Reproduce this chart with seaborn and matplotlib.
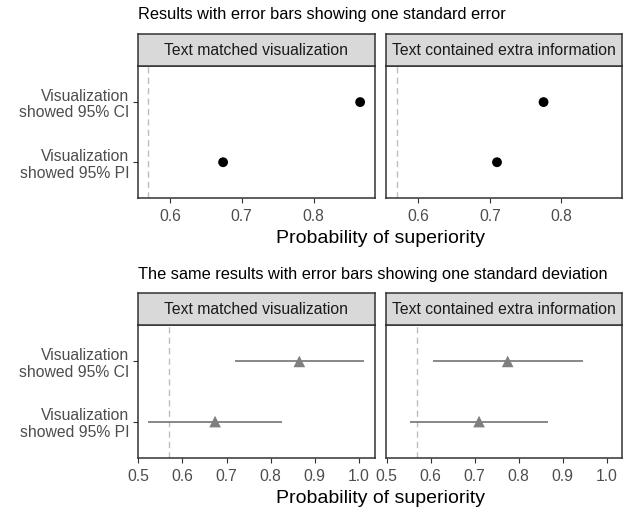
import numpy as np
import pandas as pd
import matplotlib
matplotlib.use("Agg")
import matplotlib.pyplot as plt
import seaborn as sns

# values
conditions = ["Visualization\nshowed 95% CI", "Visualization\nshowed 95% PI"]
facets = ["Text matched visualization", "Text contained extra information"]
mean_matched = [0.865, 0.674]
mean_extra = [0.775, 0.710]
se_matched = [0.005, 0.005]
se_extra = [0.005, 0.005]
sd_matched = [0.146, 0.151]
sd_extra = [0.170, 0.156]
reference = 0.57
ticks_top = [0.6, 0.7, 0.8]
ticks_bottom = [0.5, 0.6, 0.7, 0.8, 0.9, 1.0]
title_top = "Results with error bars showing one standard error"
title_bottom = "The same results with error bars showing one standard deviation"
xlabel = "Probability of superiority"

rows = []
for facet, means, ses, sds in [(facets[0], mean_matched, se_matched, sd_matched),
                               (facets[1], mean_extra, se_extra, sd_extra)]:
    for i, cond in enumerate(conditions):
        rows.append({"facet": facet, "condition": cond, "pos": i,
                     "mean": means[i], "se": ses[i], "sd": sds[i]})
df = pd.DataFrame(rows)

sns.set_theme(style="white")
plt.rcParams["font.family"] = ["Liberation Sans", "DejaVu Sans"]

W, H = 633, 508
fig = plt.figure(figsize=(W / 100, H / 100), dpi=100)

def box(x0, y0, x1, y1):
    # pixel box (from top-left) -> figure fraction rect
    return [x0 / W, 1 - y1 / H, (x1 - x0) / W, (y1 - y0) / H]

panel_x = [(137.7, 374.5), (386.0, 622.3)]
border = "#333333"

def draw_row(err_col, marker, color, size, lw, ticks, strip_y, panel_y, title, title_y, label_y):
    lo = min(reference, (df["mean"] - df[err_col]).min())
    hi = max(reference, (df["mean"] + df[err_col]).max())
    pad = 0.05 * (hi - lo)
    for j, facet in enumerate(facets):
        x0, x1 = panel_x[j]
        ax = fig.add_axes(box(x0, panel_y[0], x1, panel_y[1]))
        sub = df[df["facet"] == facet]
        ax.axvline(reference, color="#BEBEBE", lw=1.0, dashes=(4.5, 3), zorder=1)
        ax.hlines(sub["pos"], sub["mean"] - sub[err_col], sub["mean"] + sub[err_col],
                  color=color, lw=lw, zorder=2)
        sns.scatterplot(data=sub, x="mean", y="pos", marker=marker, color=color,
                        s=size, edgecolor="none", ax=ax, zorder=3, legend=False)
        ax.set_xlim(lo - pad, hi + pad)
        ax.set_ylim(len(conditions) - 0.4, -0.6)
        ax.set_xticks(ticks)
        ax.set_xticklabels([f"{t:.1f}" for t in ticks])
        ax.set_xlabel("")
        ax.set_ylabel("")
        ax.set_yticks(range(len(conditions)))
        if j == 0:
            ax.set_yticklabels(conditions, ha="right", linespacing=1.15)
        else:
            ax.set_yticklabels([])
            ax.tick_params(axis="y", length=0)
        ax.tick_params(axis="both", which="major", length=3.5, width=0.8, color=border,
                       labelsize=11.3, labelcolor="#4D4D4D", pad=2.5,
                       bottom=True, left=(j == 0))
        ax.tick_params(axis="x", pad=4.5)
        for sp in ax.spines.values():
            sp.set_color(border)
            sp.set_linewidth(1.1)
        # facet strip
        sax = fig.add_axes(box(x0, strip_y[0], x1, strip_y[1]))
        sax.set_facecolor("#D9D9D9")
        sax.set_xticks([])
        sax.set_yticks([])
        for sp in sax.spines.values():
            sp.set_color(border)
            sp.set_linewidth(1.1)
        sax.text(0.5, 0.5, facet, ha="center", va="center", fontsize=11.3,
                 color="#1A1A1A", transform=sax.transAxes)
    fig.text(138.5 / W, 1 - title_y / H, title, ha="left", va="center", fontsize=11.8, color="black")
    fig.text((panel_x[0][0] + panel_x[1][1]) / 2 / W, 1 - label_y / H, xlabel,
             ha="center", va="baseline", fontsize=14, color="black")

draw_row("se", "o", "black", 50, 1.5, ticks_top,
         (34.3, 66.0), (66.0, 198.3), title_top, 14.5, 243.0)
draw_row("sd", "^", "#7F7F7F", 70, 1.3, ticks_bottom,
         (293.3, 325.3), (325.3, 457.7), title_bottom, 274.0, 502.7)

fig.savefig("out.png", dpi=100)
